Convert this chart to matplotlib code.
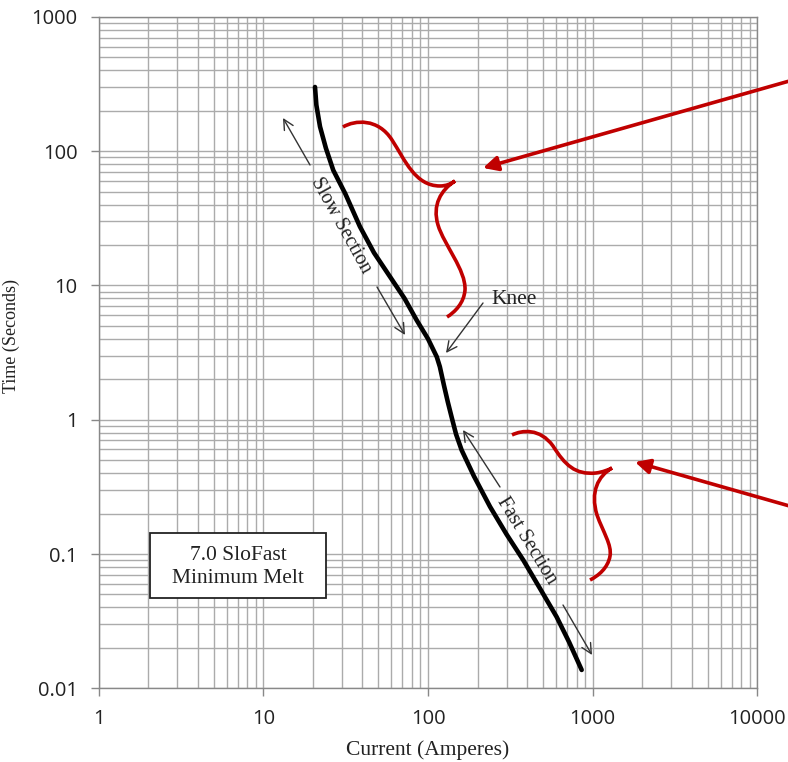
import matplotlib
matplotlib.use("Agg")
import matplotlib.pyplot as plt
from matplotlib.path import Path
from matplotlib.patches import PathPatch, Rectangle
from matplotlib.ticker import LogLocator, FixedLocator, FixedFormatter, NullFormatter

# ---- data ----
current_amps = [20.6, 21.0, 22.1, 24.0, 26.6, 31.5, 38.6, 47, 58.8, 72, 85.4, 100,
                113, 118, 125, 132, 139, 148, 160, 190, 238, 300, 379, 480, 604, 720, 857]
time_seconds = [300, 220, 152, 105, 72, 48, 27.4, 17.5, 11.6, 8.0, 5.5, 4.0,
                2.94, 2.48, 1.8, 1.35, 1.05, 0.78, 0.594, 0.38, 0.225, 0.14, 0.090,
                0.055, 0.034, 0.022, 0.0137]

x_ticks = [1, 10, 100, 1000, 10000]
x_tick_labels = ["1", "10", "100", "1000", "10000"]
y_ticks = [0.01, 0.1, 1, 10, 100, 1000]
y_tick_labels = ["0.01", "0.1", "1", "10", "100", "1000"]

SERIF = ["Liberation Serif", "DejaVu Serif"]
SANS = ["Open Sans", "DejaVu Sans"]

fig = plt.figure(figsize=(7.88, 7.62), dpi=100)
ax = fig.add_axes([0.1251, 0.0967, 0.8361, 0.8813])
ax.set_xscale("log")
ax.set_yscale("log")
ax.set_xlim(1, 10000)
ax.set_ylim(0.01, 1000)

grid_c = "#ababab"
ax.xaxis.set_major_locator(FixedLocator(x_ticks))
ax.xaxis.set_major_formatter(FixedFormatter(x_tick_labels))
ax.yaxis.set_major_locator(FixedLocator(y_ticks))
ax.yaxis.set_major_formatter(FixedFormatter(y_tick_labels))
ax.xaxis.set_minor_locator(LogLocator(base=10, subs=range(2, 10), numticks=20))
ax.yaxis.set_minor_locator(LogLocator(base=10, subs=range(2, 10), numticks=20))
ax.xaxis.set_minor_formatter(NullFormatter())
ax.yaxis.set_minor_formatter(NullFormatter())
ax.grid(True, which="both", color=grid_c, lw=1.0)
ax.tick_params(which="minor", length=0)
ax.tick_params(which="major", length=6, color="#888888", width=1, labelsize=14.5)
ax.tick_params(axis="y", pad=9)
ax.tick_params(axis="x", pad=9)
for lab in ax.get_xticklabels() + ax.get_yticklabels():
    lab.set_family(SANS)
    lab.set_color("#222222")
for s in ax.spines.values():
    s.set_color("#888888")
    s.set_linewidth(1)
ax.set_axisbelow(True)

ax.set_xlabel("Current (Amperes)", family=SERIF, fontsize=15.5, color="#222222")
ax.set_ylabel("Time (Seconds)", family=SERIF, fontsize=13, color="#222222")
ax.xaxis.set_label_coords(0.5, -0.078)
ax.yaxis.set_label_coords(-0.12, 0.525)

# main curve
ax.plot(current_amps, time_seconds, color="black", lw=3.3, solid_capstyle="round",
        solid_joinstyle="round", zorder=5)

# ---- annotations (positions as fractions of the axes box) ----
X0, X1, YB, YT = 98.6, 757.4, 688.3, 16.8
def af(px, py):
    return ((px - X0) / (X1 - X0), (YB - py) / (YB - YT))

thin = dict(arrowstyle="->", color="#333333", lw=1.0, mutation_scale=18,
            shrinkA=0, shrinkB=0)
def arrow(tail, head, props=thin):
    ax.annotate("", xy=af(*head), xytext=af(*tail), xycoords="axes fraction",
                textcoords="axes fraction", arrowprops=props, annotation_clip=False)

arrow((310, 165), (283, 118))
arrow((377, 287), (405, 335))
arrow((483, 303), (446, 353))
arrow((500, 487), (463, 430))
arrow((563, 605), (592, 655))

ax.text(*af(341, 225), "Slow Section", transform=ax.transAxes, family=SERIF,
        fontsize=14.5, rotation=-61, ha="center", va="center", color="#222222",
        rotation_mode="anchor")
ax.text(*af(527, 541), "Fast Section", transform=ax.transAxes, family=SERIF,
        fontsize=14.5, rotation=-58.5, ha="center", va="center", color="#222222",
        rotation_mode="anchor")
ax.text(*af(514, 300), "Knee", transform=ax.transAxes, family=SERIF,
        fontsize=15.5, ha="center", va="center", color="#222222")

ax.text(*af(238, 567), "7.0 SloFast\nMinimum Melt", transform=ax.transAxes,
        family=SERIF, fontsize=15.5, ha="center", va="center", color="#222222",
        linespacing=1.3, zorder=7)
bx0, by0 = af(150, 598)
bx1, by1 = af(326, 533)
ax.add_patch(Rectangle((bx0, by0), bx1 - bx0, by1 - by0, transform=ax.transAxes,
                       fc="white", ec="#222222", lw=1.3, zorder=6))

red = "#c00000"
red_props = dict(arrowstyle="-|>", color=red, lw=2.6, mutation_scale=22,
                 shrinkA=0, shrinkB=0)
arrow((800, 78), (483, 168), red_props)
arrow((800, 509), (635, 462), red_props)

def brace(segs):
    verts = [af(*segs[0])]
    codes = [Path.MOVETO]
    for p in segs[1:]:
        verts.append(af(*p))
        codes.append(Path.CURVE4)
    patch = PathPatch(Path(verts, codes), transform=ax.transAxes, fc="none",
                      ec=red, lw=2.6, capstyle="butt", zorder=6, clip_on=False)
    ax.add_patch(patch)

brace([(343, 127),
       (355, 120), (378, 118), (392, 140),
       (405, 160), (415, 186), (440, 186),
       (446, 186), (451, 184), (455, 181),
       (441, 190), (432, 205), (438, 225),
       (444, 245), (466, 270), (465, 290),
       (464, 303), (455, 312), (447, 317)])

brace([(512, 435),
       (522, 430), (540, 428), (553, 446),
       (565, 465), (575, 475), (596, 473),
       (603, 472), (608, 470), (612, 468),
       (598, 476), (590, 492), (597, 515),
       (603, 532), (612, 545), (610, 556),
       (608, 568), (598, 576), (590, 580)])

fig.savefig("out.png", dpi=100, facecolor="white")
